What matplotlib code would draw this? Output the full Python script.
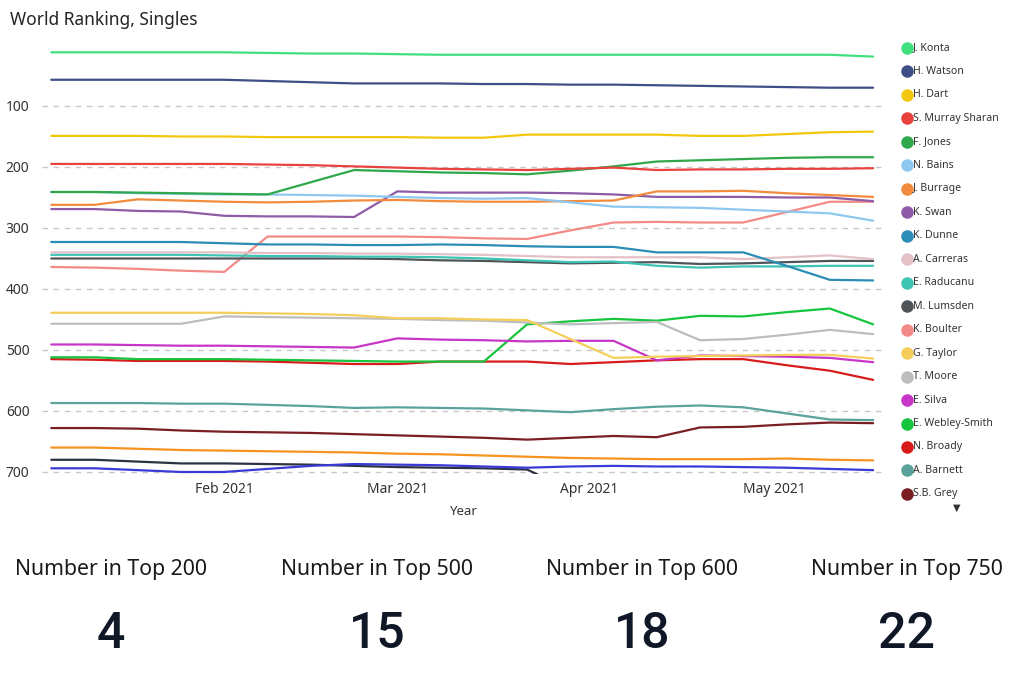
import pandas as pd
import numpy as np
import matplotlib.pyplot as plt
import matplotlib.dates as mdates
from matplotlib.lines import Line2D

plt.rcParams['font.family'] = ['Noto Sans', 'DejaVu Sans']

# weekly ranking dates
weeks = pd.date_range("2021-01-04", periods=20, freq="7D")

# rankings, one list per player
konta = [12, 12, 12, 12, 12, 13, 14, 14, 15, 16, 16, 16, 16, 16, 16, 16, 16, 16, 16, 19]
watson = [57, 57, 57, 57, 57, 59, 61, 63, 63, 63, 64, 64, 65, 65, 66, 67, 68, 69, 70, 70]
dart = [149, 149, 149, 150, 150, 151, 151, 151, 151, 152, 152, 147, 147, 147, 147, 149, 149, 146, 143, 142]
murray_sharan = [195, 195, 195, 195, 195, 196, 197, 199, 201, 203, 204, 205, 203, 201, 205, 204, 204, 203, 203, 202]
jones = [241, 241, 242, 243, 244, 245, 225, 205, 207, 209, 210, 212, 206, 199, 191, 189, 187, 185, 184, 184]
bains = [241, 241, 243, 244, 245, 245, 246, 247, 249, 251, 252, 251, 258, 265, 266, 267, 270, 273, 276, 288]
burrage = [262, 262, 253, 255, 257, 258, 257, 255, 254, 256, 257, 257, 256, 255, 240, 240, 239, 243, 246, 249]
swan = [269, 269, 272, 273, 280, 281, 281, 282, 240, 242, 242, 242, 243, 245, 249, 249, 249, 250, 250, 256]
dunne = [323, 323, 323, 323, 325, 327, 327, 328, 328, 327, 328, 330, 331, 331, 340, 340, 340, 362, 385, 386]
carreras = [340, 340, 340, 340, 340, 341, 341, 342, 342, 343, 344, 346, 348, 348, 348, 348, 351, 348, 345, 351]
raducanu = [344, 344, 344, 344, 345, 346, 346, 347, 347, 348, 350, 353, 356, 355, 362, 365, 363, 363, 362, 362]
lumsden = [350, 350, 350, 350, 350, 350, 350, 350, 351, 353, 354, 356, 358, 357, 356, 359, 358, 356, 354, 354]
boulter = [364, 365, 367, 370, 372, 314, 314, 314, 314, 315, 317, 318, 304, 291, 290, 291, 291, 274, 257, 257]
taylor = [439, 439, 439, 439, 439, 440, 441, 443, 448, 448, 450, 451, 482, 513, 511, 510, 509, 508, 508, 514]
moore = [457, 457, 457, 457, 445, 446, 447, 448, 449, 451, 452, 455, 458, 456, 454, 484, 482, 475, 467, 474]
silva = [491, 491, 492, 493, 493, 494, 495, 496, 481, 483, 484, 486, 485, 485, 517, 509, 510, 511, 513, 520]
webley_smith = [512, 512, 515, 515, 515, 516, 517, 518, 519, 519, 519, 458, 453, 449, 452, 444, 445, 438, 432, 458]
broady = [515, 516, 518, 518, 518, 519, 521, 523, 523, 519, 519, 519, 523, 520, 517, 515, 515, 525, 534, 549]
barnett = [587, 587, 587, 588, 588, 590, 592, 595, 594, 595, 596, 599, 602, 597, 593, 591, 594, 604, 614, 615]
grey = [628, 628, 629, 632, 634, 635, 636, 638, 640, 642, 644, 647, 644, 641, 643, 627, 626, 622, 619, 620]
# three more players below the visible legend entries
extra_orange = [660, 660, 662, 664, 665, 666, 667, 668, 670, 671, 673, 675, 677, 678, 679, 679, 679, 678, 680, 681]
extra_dark = [680, 680, 683, 686, 686, 687, 688, 690, 692, 693, 694, 696, 730, 735, 738, 740, 742, 745, 748, 750]
extra_blue = [694, 694, 697, 700, 700, 695, 690, 687, 688, 689, 691, 693, 691, 690, 691, 691, 692, 693, 695, 697]

names = ["J. Konta", "H. Watson", "H. Dart", "S. Murray Sharan", "F. Jones", "N. Bains",
         "J. Burrage", "K. Swan", "K. Dunne", "A. Carreras", "E. Raducanu", "M. Lumsden",
         "K. Boulter", "G. Taylor", "T. Moore", "E. Silva", "E. Webley-Smith", "N. Broady",
         "A. Barnett", "S.B. Grey"]
series = [konta, watson, dart, murray_sharan, jones, bains, burrage, swan, dunne, carreras,
          raducanu, lumsden, boulter, taylor, moore, silva, webley_smith, broady, barnett, grey]
colors = ["#41E07E", "#3F4E87", "#F2C80F", "#E8423F", "#2FA84B", "#8EC8F0", "#F28C3C",
          "#8E5BA6", "#2A8DB5", "#E3C1C6", "#3EC4B4", "#4E5458", "#F38A87", "#F5CF5A",
          "#BDBDBD", "#C736C7", "#16C43E", "#D81B1B", "#5AA39A", "#7B1E24"]
extra_series = [extra_orange, extra_dark, extra_blue]
extra_colors = ["#F7931E", "#2C3340", "#3A3AD6"]

kpi_labels = ["Number in Top 200", "Number in Top 500", "Number in Top 600", "Number in Top 750"]
kpi_values = ["4", "15", "18", "22"]

fig = plt.figure(figsize=(10.24, 6.77), dpi=100)
W, H = 1024, 677

ax = fig.add_axes([42 / W, 1 - 473.8 / H, 841 / W, 428.8 / H])
for s, c in zip(extra_series, extra_colors):
    ax.plot(weeks, s, color=c, lw=1.6, solid_capstyle='round')
for s, c in zip(series[::-1], colors[::-1]):
    ax.plot(weeks, s, color=c, lw=1.6, solid_capstyle='round')

ax.set_ylim(703, 0)
ax.set_yticks([100, 200, 300, 400, 500, 600, 700])
ax.set_xlim(weeks[0] - pd.Timedelta(days=1.5), weeks[-1] + pd.Timedelta(days=1.6))
ax.xaxis.set_major_locator(mdates.MonthLocator(bymonth=[2, 3, 4, 5]))
ax.xaxis.set_major_formatter(mdates.DateFormatter("%b %Y"))
ax.grid(axis='y', color='#C8C8C8', linestyle=(0, (4, 4)), linewidth=1)
ax.set_axisbelow(True)
for sp in ax.spines.values():
    sp.set_visible(False)
ax.tick_params(axis='both', length=0, colors='#555555', labelsize=10)
ax.tick_params(axis='y', pad=9)
ax.tick_params(axis='x', pad=6)
for lab in ax.get_xticklabels() + ax.get_yticklabels():
    lab.set_color('#333333')
ax.set_xlabel("Year", fontsize=9.5, color='#333333', labelpad=6)

fig.text(10 / W, 1 - 20 / H, "World Ranking, Singles", fontsize=12.5, color='#252423',
         va='center', ha='left')

# legend, drawn by hand to follow the Power BI spacing
for i, (n, c) in enumerate(zip(names, colors)):
    yy = 1 - (48 + i * 23.47) / H
    fig.add_artist(Line2D([907 / W], [yy], marker='o', markersize=8, color=c,
                          transform=fig.transFigure))
    fig.text(913 / W, yy, n, fontsize=7.6, color='#333333', va='center', ha='left')
fig.text(957 / W, 1 - 508 / H, "\u25BC", fontsize=7, color='#333333', va='center', ha='center')

# KPI cards
kpi_x = [111, 377, 642, 907]
for x, lab, val in zip(kpi_x, kpi_labels, kpi_values):
    fig.text(x / W, 1 - 569 / H, lab, fontsize=15.3, color='#1A1A1A', va='center', ha='center')
    fig.text(x / W, 1 - 634 / H, val, fontsize=36, color='#101828', va='center', ha='center',
             family=['Roboto', 'DejaVu Sans'], fontweight='medium')

fig.savefig("out.png", dpi=100, facecolor='white')
